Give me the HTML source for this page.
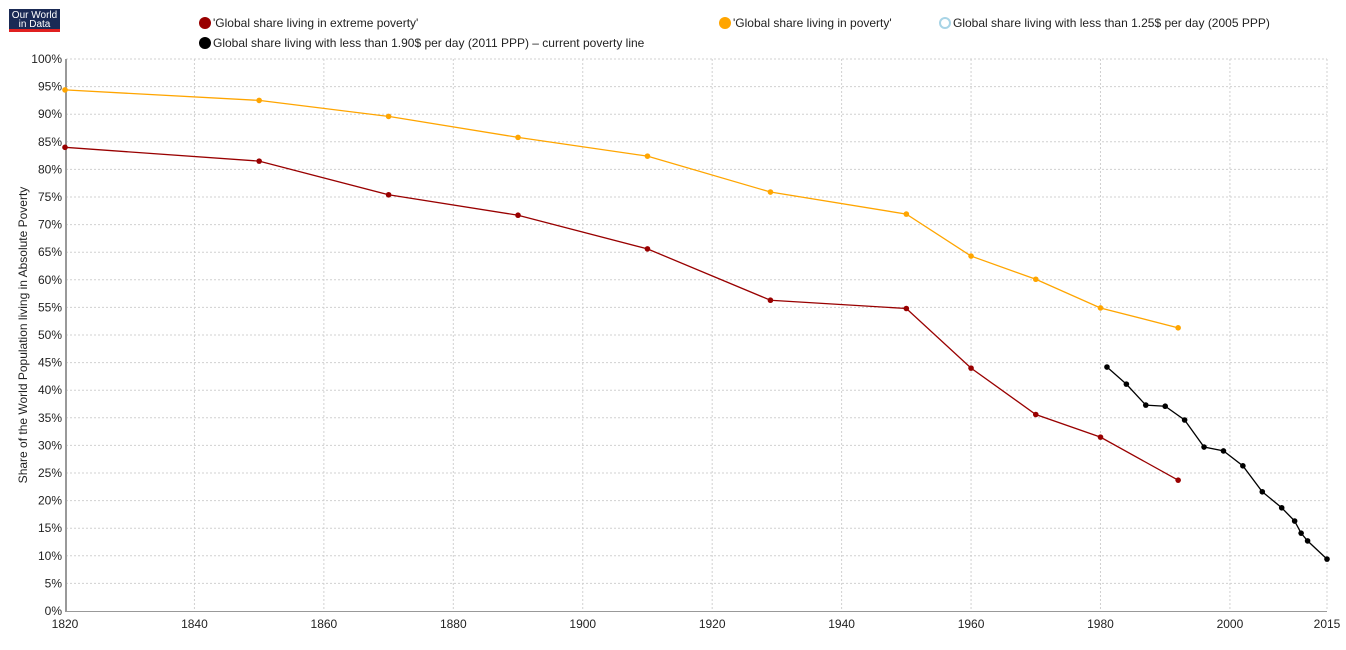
<!DOCTYPE html>
<html><head><meta charset="utf-8"><style>
body{margin:0;background:#fff;width:1346px;height:645px;overflow:hidden;font-family:"Liberation Sans",sans-serif}
svg text{font-family:"Liberation Sans",sans-serif}
</style></head><body>
<svg width="1346" height="645">
<g>
<rect x="9" y="9" width="51" height="20" fill="#1a2a55"/><rect x="9" y="29" width="51" height="3" fill="#e02020"/>
<text x="34.5" y="18" font-size="10" fill="#fff" text-anchor="middle">Our World</text>
<text x="34.5" y="27" font-size="10" fill="#fff" text-anchor="middle">in Data</text>
</g>
<g font-size="12" fill="#222">
<g><circle cx="205" cy="23" r="6" fill="#990000"/><text x="213" y="27">'Global share living in extreme poverty'</text></g>
<g><circle cx="725" cy="23" r="6" fill="#ffa500"/><text x="733" y="27">'Global share living in poverty'</text></g>
<g><circle cx="945" cy="23" r="5" fill="#fff" stroke="#a8d4e6" stroke-width="2"/><text x="953" y="27">Global share living with less than 1.25$ per day (2005 PPP)</text></g>
<g><circle cx="205" cy="43" r="6" fill="#000"/><text x="213" y="47">Global share living with less than 1.90$ per day (2011 PPP) – current poverty line</text></g>
</g>
<text transform="translate(27,335) rotate(-90)" font-size="12" text-anchor="middle" fill="#222">Share of the World Population living in Absolute Poverty</text>
<g id="grid"></g><g id="axes"></g><g id="series"></g>
</svg>
<script>
const extremeYears=[1820,1850,1870,1890,1910,1929,1950,1960,1970,1980,1992];
const extremeVals=[84,81.5,75.4,71.7,65.6,56.3,54.8,44,35.6,31.5,23.7];
const povertyYears=[1820,1850,1870,1890,1910,1929,1950,1960,1970,1980,1992];
const povertyVals=[94.4,92.5,89.6,85.8,82.4,75.9,71.9,64.3,60.1,54.9,51.3];
const line190Years=[1981,1984,1987,1990,1993,1996,1999,2002,2005,2008,2010,2011,2012,2015];
const line190Vals=[44.2,41.1,37.3,37.1,34.6,29.7,29.0,26.3,21.6,18.7,16.3,14.1,12.7,9.4];
const xTicks=[1820,1840,1860,1880,1900,1920,1940,1960,1980,2000,2015];
const yTicks=[0,5,10,15,20,25,30,35,40,45,50,55,60,65,70,75,80,85,90,95,100];
const NS='http://www.w3.org/2000/svg';
const X=y=>65+(y-1820)*(1262/195), Y=v=>611-v*5.52;
function mk(t,a,p){const e=document.createElementNS(NS,t);for(const k in a)e.setAttribute(k,a[k]);p.appendChild(e);return e;}
const grid=document.getElementById('grid'),axes=document.getElementById('axes'),ser=document.getElementById('series');
yTicks.forEach(v=>{
 if(v>0){const l=mk('line',{x1:66,x2:1327,y1:Y(v),y2:Y(v),stroke:'#d0d0d0','stroke-dasharray':'2,2'},grid);
 
 }
 const t=mk('text',{x:62,y:Y(v)+4,'font-size':12,'text-anchor':'end',fill:'#222'},axes);t.textContent=v+'%';
 
 
});
xTicks.forEach(yr=>{
 if(yr>1820){const l=mk('line',{x1:X(yr),x2:X(yr),y1:59,y2:611,stroke:'#d0d0d0','stroke-dasharray':'2,2'},grid);
 
 }
 const t=mk('text',{x:X(yr),y:628,'font-size':12,'text-anchor':'middle',fill:'#222'},axes);t.textContent=yr;
 
 
});
const ya=mk('line',{x1:66,x2:66,y1:59,y2:612,stroke:'#999','stroke-width':2},axes);


const xa=mk('line',{x1:65,x2:1327,y1:611.5,y2:611.5,stroke:'#999','stroke-width':1},axes);


function series(ys,vs,col,name){
 const p=mk('polyline',{points:ys.map((y,i)=>X(y)+','+Y(vs[i])).join(' '),fill:'none',stroke:col,'stroke-width':1.3},ser);
 
 
 ys.forEach((y,i)=>{const c=mk('circle',{cx:X(y),cy:Y(vs[i]),r:2.8,fill:col},ser);
 
 });
}
series(povertyYears,povertyVals,'#ffa500','poverty');
series(extremeYears,extremeVals,'#990000','extreme-poverty');
series(line190Years,line190Vals,'#000','poverty-190');
</script>
</body></html>
